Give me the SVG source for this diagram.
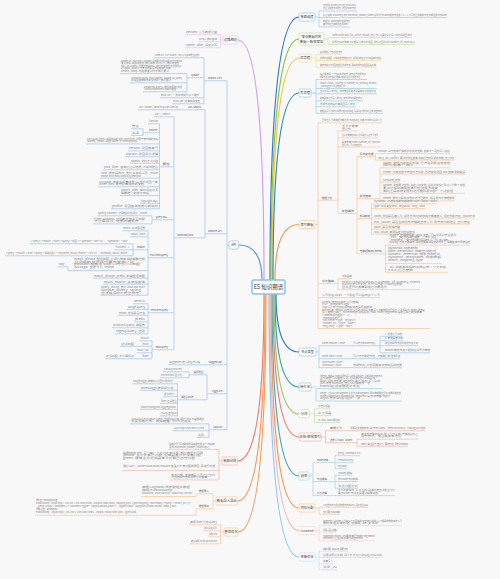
<svg xmlns="http://www.w3.org/2000/svg" width="500" height="579" viewBox="0 0 500 579">
<style>
text{font-family:"Noto Sans CJK SC","Noto Sans",sans-serif}
.n{font-size:3.3px;fill:#333;text-anchor:middle}
.t{font-size:2.3px;fill:#858585}
.s{font-size:2.6px;fill:#555}
.b{fill:#fff;stroke-width:0.8}
.u{fill:none;stroke-width:0.75}
.m{fill:none;stroke-width:1.2;stroke-linecap:round}
.e{fill:none;stroke-width:0.75}
.r{fill:#e0473c}
.c1{stroke:#2f78c4}.l1{stroke:#a6c9ec}
.c2{stroke:#8cc63f}.l2{stroke:#c6e2a6}
.c3{stroke:#f5c242}.l3{stroke:#f8dc94}
.c4{stroke:#2a8cb4}.l4{stroke:#9fd0e2}
.c5{stroke:#f59b55}.l5{stroke:#f8c8a0}
.c7{stroke:#3a9fba}.l7{stroke:#a2d3e0}
.c8{stroke:#93c95d}.l8{stroke:#c9e4ae}
.c9{stroke:#ef7f70}.l9{stroke:#f6b8ae}
.c10{stroke:#44a9bd}.l10{stroke:#a6d6e0}
.c12{stroke:#f4b3b3}.l12{stroke:#f9d4d4}
.c13{stroke:#8cc7f2}.l13{stroke:#c6e2f8}
.c14{stroke:#d39ef2}.l14{stroke:#e4c6f8}
.c15{stroke:#5b9bd5}.l15{stroke:#a2c6ea}
</style>
<rect width="500" height="579" fill="#f8f8f8"/>

<g id="connectors">
<path class="m c1" d="M270 280Q270 17 299 17"/>
<path class="m c2" d="M271 280Q271 39 299 39"/>
<path class="m c3" d="M272 280Q272 58 299 58"/>
<path class="m c4" d="M273 280Q273 93 299 93"/>
<path class="m c5" d="M275 280Q275 224.5 299 224.5"/>
<path class="m c1" d="M276 294Q276 352 299 352"/>
<path class="m c7" d="M275 294Q275 387 299 387"/>
<path class="m c8" d="M274 294Q274 414 299 414"/>
<path class="m c9" d="M273 294Q273 437 299 437"/>
<path class="m c10" d="M272 294Q272 476 299 476"/>
<path class="m c5" d="M271 294Q271 508 299 508"/>
<path class="m c12" d="M270 294Q270 530.5 299 530.5"/>
<path class="m c13" d="M269 294Q269 557 299 557"/>
<path class="m c14" d="M264 280Q264 40 238 40"/>
<path class="m c15" d="M262 280Q262 245 238.5 245"/>
<path class="m c9" d="M264 294Q264 461 237.5 461"/>
<path class="m c5" d="M265 294Q265 501 237.5 501"/>
<path class="m c5" d="M266 294Q266 532 238 532"/>
<path class="e l1" d="M315 17H319M319 11V27"/>
<path class="e l2" d="M324 39H328M328 37.6V44.6"/>
<path class="e l3" d="M311 58H316M316 54.2V67.2"/>
<path class="e l4" d="M311 93H316M316 79.5V113.3"/>
<path class="e l5" d="M315 224.5H318M318 122.9V328.5M338 131V213.6M357 156.6V253.9M375.5 153.6V160.1M380 167.8V200.9M371.5 203.9V234.1M385.5 245.2V272.3M338 278.6V289.6"/>
<path class="e l1" d="M316 352H319M319 345.7V367.7M380 336.3V352.8"/>
<path class="e l7" d="M311 387H316M316 388.6V401"/>
<path class="e l8" d="M309 413.8H314.5M314.5 408.8V422.6"/>
<path class="e l9" d="M321 437H325.5M325.5 430.7V442.7M357 439.2V446.3"/>
<path class="e l10" d="M309 476H313M313 462.6V495.6M335 455.7V468.7M335 475.2V488.2"/>
<path class="e l5" d="M315 508H319M319 507.2V514.2"/>
<path class="e l12" d="M315 530.5H319M319 525.6V540.7"/>
<path class="e l13" d="M315 557H319M319 551.2V569.8"/>
<path class="e l14" d="M223 40H220.5M220.5 34.7V47.7"/>
<path class="e l15" d="M229 245H227M227 80.8V429.8M204 57.8V103.8M187 73.6V91.8M205 109.8V237.8M174 116.8V349.8M159.5 123.8V208.8M143 128.8V135.3M152 215.8V223.9M148 230.8V295.2M133 243.8V255.8M72 270.6H68V266.8M148 303.8V333.8M152 340.8V358.8M189 371.8V377.8M177.5 383.8V415.8M207 374.8V399.8M209 423.9V437.3"/>
<path class="e l9" d="M222 461H219M219 449.4V479.9"/>
<path class="e l5" d="M216 501H213M213 493.8V508.8M196 493.8V496.5M196 508.8V515.3"/>
<path class="e l5" d="M224 532H220.5M220.5 524.8V543.8"/>
</g>

<g id="center">
<rect x="252" y="280" width="33" height="14" rx="2" fill="#fff" stroke="#8fc1ec" stroke-width="1.5"/>
<text x="268.5" y="289.2" font-size="5.5" fill="#333" text-anchor="middle">ES 知识图谱</text>
</g>

<g id="n-cluster">
<rect class="b l1" x="299" y="13" width="16" height="8" rx="1.2"/>
<text class="n" x="307" y="18.3">集群组建</text>
<path class="u l1" d="M319 11H357M319 17.6H447M319 27H350"/>
<text class="t" x="323" y="6.3" textLength="33" lengthAdjust="spacingAndGlyphs">节点发现: discovery.zen.ping.unicast.hosts</text>
<text class="t" x="323" y="9.3" textLength="33" lengthAdjust="spacingAndGlyphs">选主: 对候选节点排序, 选出master节点</text>
<text class="t" x="323" y="16" textLength="124" lengthAdjust="spacingAndGlyphs">防止脑裂: discovery.zen.minimum_master_nodes 设置为 (master候选节点数 / 2) + 1, 得票超过半数的节点才能当选为master</text>
<text class="t" x="323" y="22.3" textLength="27" lengthAdjust="spacingAndGlyphs">故障检测: master定期ping其他节点</text>
<text class="t" x="323" y="25.3" textLength="25" lengthAdjust="spacingAndGlyphs">其他节点也定期ping master</text>
</g>

<g id="n-consistency">
<rect class="b l2" x="299" y="33" width="25" height="12" rx="1.2"/>
<text class="n" x="311.5" y="38.3" font-size="3.1">保存数据时的</text>
<text class="n" x="311.5" y="42.5" font-size="3.1">数据一致性保证</text>
<path class="u l2" d="M328 37.6H412M328 44.6H415"/>
<text class="t" x="332" y="36" textLength="80" lengthAdjust="spacingAndGlyphs">index.write.wait_for_active_shards: 默认为1, 只需主分片写入成功即返回成功</text>
<text class="t" x="332" y="43" textLength="83" lengthAdjust="spacingAndGlyphs">设置为all时所有分片都写入成功才返回, 取值范围为1到 number_of_replicas+1</text>
</g>

<g id="n-read">
<rect class="b l3" x="299" y="54" width="12" height="8" rx="1.2"/>
<text class="n" x="305" y="59.3">读流程</text>
<path class="u l3" d="M316 54.2H342M316 60.5H381M316 67.2H376"/>
<text class="t" x="320" y="52.6" textLength="22" lengthAdjust="spacingAndGlyphs">客户端选择一个节点发送请求</text>
<text class="t" x="320" y="58.9" textLength="61" lengthAdjust="spacingAndGlyphs">协调节点根据 _id 确定文档所在分片, 采用轮询在主分片和副本中选择</text>
<text class="t" x="320" y="65.6" textLength="56" lengthAdjust="spacingAndGlyphs">被选中的分片返回文档给协调节点, 再由协调节点返回给客户端</text>
</g>

<g id="n-write">
<rect class="b l4" x="299" y="89" width="12" height="8" rx="1.2"/>
<text class="n" x="305" y="94.3">写流程</text>
<path class="u l4" d="M316 79.5H367M316 88.5H377M316 93.8H377M316 100.8H363M316 106.8H356M316 113.3H383"/>
<text class="t" x="320" y="74.8" textLength="46" lengthAdjust="spacingAndGlyphs">客户端选择一个节点发送请求, 该节点为协调节点</text>
<text class="t" x="320" y="77.6" textLength="40" lengthAdjust="spacingAndGlyphs">协调节点对文档进行路由, 转发到主分片所在节点</text>
<text class="t" x="320" y="83.8" textLength="56" lengthAdjust="spacingAndGlyphs">shard = hash(_routing) % number_of_primary_shards</text>
<text class="t" x="320" y="86.6" textLength="25" lengthAdjust="spacingAndGlyphs">_routing 默认为文档的 _id</text>
<text class="t" x="320" y="92.2" textLength="56" lengthAdjust="spacingAndGlyphs">主分片写入成功后, 将请求并行转发到副本分片所在节点</text>
<text class="t" x="320" y="99.2" textLength="42" lengthAdjust="spacingAndGlyphs">所有副本分片写入成功后, 向协调节点报告成功</text>
<text class="t" x="320" y="105.2" textLength="35" lengthAdjust="spacingAndGlyphs">协调节点向客户端返回写入成功</text>
<text class="t" x="320" y="111.7" textLength="62" lengthAdjust="spacingAndGlyphs">数据先写入 index buffer 和 translog, 每隔1秒 refresh 生成 segment</text>
</g>

<g id="n-index">
<rect class="b l5" x="299" y="220.5" width="16" height="8" rx="1.2"/>
<text class="n" x="307" y="225.8">索引数据</text>
<path class="u l5" d="M318 122.9H382M318 200.2H338M338 131H358M338 137.9H378M338 147H380M338 213.6H357M357 156.6H375.5M375.5 153.6H450M375.5 160.1H454M357 198.6H380M380 167.8H450M380 174.1H465M380 182.1H400M380 193.3H465M380 200.9H455M357 218.6H371.5M371.5 203.9H437M371.5 208.6H425M371.5 218.1H475M371.5 224.1H470M371.5 229.1H400M371.5 234.1H415M357 253.9H385.5M385.5 245.2H470M385.5 263.6H442M385.5 272.3H448M318 283.6H338M338 278.6H352M338 289.6H420M318 297.6H380M318 328.5H430"/>
<text class="t" x="322" y="121.3" textLength="60" lengthAdjust="spacingAndGlyphs">已建立索引的数据不能修改 mapping, 只能 reindex 到新索引</text>
<text class="s" x="322" y="198.6">数据分片</text>
<text class="t" x="342" y="126.8" textLength="16" lengthAdjust="spacingAndGlyphs">主分片数量</text>
<text class="t" x="342" y="129.5" textLength="9" lengthAdjust="spacingAndGlyphs">默认为5</text>
<text class="t" x="342" y="136.3" textLength="36" lengthAdjust="spacingAndGlyphs">主分片数量在创建索引时确定, 之后不可修改</text>
<text class="t" x="342" y="142.8" textLength="38" lengthAdjust="spacingAndGlyphs">副本数量 index.number_of_replicas</text>
<text class="t" x="342" y="145.5" textLength="20" lengthAdjust="spacingAndGlyphs">默认为1, 可以动态修改</text>
<text class="s" x="341.5" y="212" textLength="12.5" lengthAdjust="spacingAndGlyphs">文档操作</text>
<text class="s" x="359.5" y="155" textLength="14" lengthAdjust="spacingAndGlyphs">写冲突处理</text>
<text class="t" x="378" y="152" textLength="72" lengthAdjust="spacingAndGlyphs">version: 基于版本号实现乐观并发控制, 版本不一致则写入失败</text>
<text class="t" x="378" y="158.5" textLength="76" lengthAdjust="spacingAndGlyphs">retry_on_conflict: 更新时发生版本冲突后自动重试的次数, 默认为0</text>
<text class="s" x="359.5" y="197" textLength="11.5" lengthAdjust="spacingAndGlyphs">并发控制</text>
<text class="t" x="383" y="163.5" textLength="67" lengthAdjust="spacingAndGlyphs">index: 文档不存在则创建, 已存在则覆盖旧文档</text>
<text class="t" x="383" y="166.2" textLength="30" lengthAdjust="spacingAndGlyphs">同时版本号加1</text>
<text class="t" x="383" y="172.5" textLength="82" lengthAdjust="spacingAndGlyphs">create: 只有文档不存在时才创建, 已存在则返回 409 版本冲突错误</text>
<text class="t" x="383" y="180.5" textLength="17" lengthAdjust="spacingAndGlyphs">Sanitizing 清洗</text>
<text class="t" x="383" y="186.3" textLength="82" lengthAdjust="spacingAndGlyphs">update: 局部更新文档, 先检索旧文档, 合并新字段后重新索引整个文档</text>
<text class="t" x="383" y="189" textLength="55" lengthAdjust="spacingAndGlyphs">更新过程中使用版本号检测并发冲突</text>
<text class="t" x="383" y="191.7" textLength="70" lengthAdjust="spacingAndGlyphs">实际上是将旧文档标记为删除并创建一个新文档</text>
<text class="t" x="383" y="199.3" textLength="72" lengthAdjust="spacingAndGlyphs">delete: 删除只是将文档标记为已删除, 段合并时才物理删除</text>
<text class="s" x="359.5" y="217" textLength="10.5" lengthAdjust="spacingAndGlyphs">字段映射</text>
<text class="t" x="374" y="202.3" textLength="63" lengthAdjust="spacingAndGlyphs">dynamic: 新增字段的动态映射 true / false / strict</text>
<text class="t" x="374" y="207" textLength="51" lengthAdjust="spacingAndGlyphs">type: 字段类型 text / keyword / long / date</text>
<text class="t" x="374" y="216.5" textLength="101" lengthAdjust="spacingAndGlyphs">index: 字段是否被索引, 设置为 false 的字段不能被搜索, 但仍然保存在 _source 中</text>
<text class="t" x="374" y="222.5" textLength="96" lengthAdjust="spacingAndGlyphs">doc_values: 是否生成列式存储的正排索引, 用于排序和聚合, 默认开启</text>
<text class="t" x="374" y="227.5" textLength="26" lengthAdjust="spacingAndGlyphs">store: 是否单独存储</text>
<text class="t" x="374" y="232.5" textLength="41" lengthAdjust="spacingAndGlyphs">null_value: 使用指定值替换空值</text>
<text class="s" x="359.5" y="252.3" textLength="22.5" lengthAdjust="spacingAndGlyphs">元数据映射(meta)</text>
<text class="t" x="388" y="235.6" textLength="68" lengthAdjust="spacingAndGlyphs">_source: 存储原始的 JSON 文档, 可以关闭以节省空间</text>
<text class="t" x="388" y="238.2" textLength="48" lengthAdjust="spacingAndGlyphs">_id: 文档的唯一标识</text>
<text class="t" x="388" y="240.8" textLength="60" lengthAdjust="spacingAndGlyphs">_index: 文档所属的索引名称</text>
<text class="t" x="388" y="243.4" textLength="82" lengthAdjust="spacingAndGlyphs">_routing: 自定义路由值, 将文档路由到指定的分片上, 需要查询时同样指定</text>
<text class="t" x="388" y="249" textLength="30" lengthAdjust="spacingAndGlyphs">dynamic 动态映射</text>
<text class="t" x="388" y="252" textLength="48" lengthAdjust="spacingAndGlyphs">date_detection: 日期自动检测</text>
<text class="t" x="388" y="255" textLength="52" lengthAdjust="spacingAndGlyphs">numeric_detection: 数字自动检测</text>
<text class="t" x="388" y="258" textLength="53" lengthAdjust="spacingAndGlyphs">dynamic_templates: 动态模板</text>
<text class="t" x="388" y="261" textLength="35" lengthAdjust="spacingAndGlyphs">match_mapping_type</text>
<text class="t" x="388" y="267.5" textLength="58" lengthAdjust="spacingAndGlyphs">_all: 将所有字段的值拼接成一个大字段</text>
<text class="t" x="388" y="270.5" textLength="25" lengthAdjust="spacingAndGlyphs">6.0 之后已废弃</text>
<text class="s" x="322" y="282" textLength="12" lengthAdjust="spacingAndGlyphs">分片路由</text>
<text class="t" x="342" y="277" textLength="10" lengthAdjust="spacingAndGlyphs">创建副本</text>
<text class="t" x="342" y="282.5" textLength="78" lengthAdjust="spacingAndGlyphs">shard = hash(routing) % number_of_primary_shards</text>
<text class="t" x="342" y="285.2" textLength="60" lengthAdjust="spacingAndGlyphs">routing 默认为文档 _id, 可以自定义 routing 参数</text>
<text class="t" x="342" y="287.9" textLength="45" lengthAdjust="spacingAndGlyphs">因此主分片数量确定后不能修改</text>
<text class="t" x="322" y="296" textLength="58" lengthAdjust="spacingAndGlyphs">索引别名 alias: 一个别名可以指向多个索引</text>
<text class="t" x="322" y="302.5" textLength="37" lengthAdjust="spacingAndGlyphs">Index Template 索引模板</text>
<text class="t" x="322" y="305.2" textLength="27" lengthAdjust="spacingAndGlyphs">PUT _template/logs</text>
<text class="t" x="322" y="307.9" textLength="50" lengthAdjust="spacingAndGlyphs">创建索引时自动应用模板中的设置和映射</text>
<text class="t" x="322" y="310.6" textLength="103" lengthAdjust="spacingAndGlyphs"><tspan class="r">刷新与合并</tspan>: refresh_interval 设置刷新间隔, 批量写入大量数据时可设为 -1 关闭刷新, 完成后再恢复</text>
<text class="t" x="322" y="313.3" textLength="100" lengthAdjust="spacingAndGlyphs">写入完成后通过 _forcemerge 将段合并, max_num_segments 指定合并后的段数量</text>
<text class="t" x="322" y="316" textLength="27" lengthAdjust="spacingAndGlyphs">"settings": {</text>
<text class="t" x="322" y="318.7" textLength="20" lengthAdjust="spacingAndGlyphs">"mappings": {</text>
<text class="t" x="322" y="321.4" textLength="34" lengthAdjust="spacingAndGlyphs">"host_name": {"type": "keyword"},</text>
<text class="t" x="322" y="324.1" textLength="34" lengthAdjust="spacingAndGlyphs">"created_at": {"type": "date"},</text>
<text class="t" x="322" y="326.8" textLength="30" lengthAdjust="spacingAndGlyphs">"msg_body": {"type": "text"}</text>
</g>

<g id="n-node-type">
<rect class="b l1" x="299" y="348" width="17" height="8" rx="1.2"/>
<text class="n" x="307.5" y="353.2">节点类型</text>
<path class="u l1" d="M319 345.7H380M380 336.3H402M380 340.8H403M380 345.7H418M380 352.8H430M319 358.7H400M319 367.7H402"/>
<text class="t" x="322" y="344" textLength="23" lengthAdjust="spacingAndGlyphs">node.master = true</text>
<text class="t" x="353" y="344" textLength="22" lengthAdjust="spacingAndGlyphs">可以作为master节点</text>
<text class="t" x="385" y="334.7" textLength="17" lengthAdjust="spacingAndGlyphs">1. 处理索引请求</text>
<text class="t" x="385" y="339.2" textLength="18" lengthAdjust="spacingAndGlyphs">2. 管理集群状态</text>
<text class="t" x="385" y="344.1" textLength="33" lengthAdjust="spacingAndGlyphs">建议master节点与数据节点分离</text>
<text class="t" x="385" y="351.2" textLength="45" lengthAdjust="spacingAndGlyphs">master候选节点个数建议设置为奇数</text>
<text class="t" x="322" y="357" textLength="20" lengthAdjust="spacingAndGlyphs">node.data = true</text>
<text class="t" x="353" y="357" textLength="22" lengthAdjust="spacingAndGlyphs">可以作为数据节点</text>
<text class="t" x="378" y="357" textLength="22" lengthAdjust="spacingAndGlyphs">存储数据, 执行增删改查</text>
<text class="t" x="322" y="363.3" textLength="20" lengthAdjust="spacingAndGlyphs">node.master = false</text>
<text class="t" x="322" y="366" textLength="19" lengthAdjust="spacingAndGlyphs">node.data = false</text>
<text class="t" x="353" y="366" textLength="49" lengthAdjust="spacingAndGlyphs">协调节点: 只负责路由请求和合并结果</text>
</g>

<g id="n-persist">
<rect class="b l7" x="299" y="383" width="12" height="8" rx="1.2"/>
<text class="n" x="305" y="388.3">持久化</text>
<path class="u l7" d="M316 388.6H383M316 401H402"/>
<text class="t" x="320" y="376.6" textLength="62" lengthAdjust="spacingAndGlyphs">refresh: 数据从 index buffer 写入文件系统缓存, 生成新的 segment</text>
<text class="t" x="320" y="379.1" textLength="55" lengthAdjust="spacingAndGlyphs">此时数据可以被搜索到, 但尚未持久化到磁盘</text>
<text class="t" x="320" y="381.6" textLength="60" lengthAdjust="spacingAndGlyphs">flush: 将缓存中的 segment 通过 fsync 写入磁盘</text>
<text class="t" x="320" y="384.1" textLength="50" lengthAdjust="spacingAndGlyphs">同时清空 translog, 默认30分钟触发一次</text>
<text class="t" x="320" y="386.6" textLength="40" lengthAdjust="spacingAndGlyphs">translog 保证数据不丢失</text>
<text class="t" x="320" y="394.4" textLength="81" lengthAdjust="spacingAndGlyphs">merge: 后台将小的 segment 合并为大的 segment, 同时物理删除已标记删除的文档</text>
<text class="t" x="320" y="396.9" textLength="70" lengthAdjust="spacingAndGlyphs">index.translog.durability: request 每次请求都 fsync</text>
<text class="t" x="320" y="399.4" textLength="40" lengthAdjust="spacingAndGlyphs">async 异步每5秒 fsync 一次</text>
</g>

<g id="n-analyzer">
<rect class="b l8" x="299" y="409.8" width="10" height="8" rx="1.2"/>
<text class="n" x="304" y="415.1">分词</text>
<path class="u l8" d="M314.5 408.8H330M314.5 415.6H331M314.5 422.6H340"/>
<text class="t" x="318" y="407.2" textLength="12" lengthAdjust="spacingAndGlyphs">标准分析器</text>
<text class="t" x="318" y="414" textLength="13" lengthAdjust="spacingAndGlyphs">IK 分词器</text>
<text class="t" x="318" y="421" textLength="22" lengthAdjust="spacingAndGlyphs">ik_max_word 细粒度</text>
</g>

<g id="n-inverted">
<rect class="b l9" x="299" y="433" width="22" height="8" rx="1.2"/>
<text class="n" x="310" y="438.2">正排/倒排索引</text>
<path class="u l9" d="M325.5 430.7H425M325.5 442.7H357M357 439.2H418M357 446.3H408"/>
<text class="s" x="330" y="429" textLength="12" lengthAdjust="spacingAndGlyphs">倒排索引</text>
<text class="t" x="350" y="429" textLength="75" lengthAdjust="spacingAndGlyphs">词项到文档的映射, 由 Term Index、Term Dictionary、Posting List 组成</text>
<text class="s" x="330" y="441" textLength="22" lengthAdjust="spacingAndGlyphs">正排索引doc_values</text>
<text class="t" x="361" y="434.8" textLength="57" lengthAdjust="spacingAndGlyphs">按文档存储字段值, 在索引时生成, 存储在磁盘上</text>
<text class="t" x="361" y="437.4" textLength="40" lengthAdjust="spacingAndGlyphs">用于排序、聚合和脚本访问</text>
<text class="t" x="361" y="444.6" textLength="47" lengthAdjust="spacingAndGlyphs">text 类型不支持, 需开启 fielddata</text>
</g>

<g id="n-election">
<rect class="b l10" x="299" y="472" width="10" height="8" rx="1.2"/>
<text class="n" x="304" y="477.3">选举</text>
<path class="u l10" d="M313 462.6H335M335 455.7H360M335 462.6H353M335 468.7H347M313 481.6H335M335 475.2H352M335 481.6H358M335 488.2H358M313 495.6H395"/>
<text class="s" x="317" y="461" textLength="11" lengthAdjust="spacingAndGlyphs">master选举</text>
<text class="t" x="338" y="454.1" textLength="22" lengthAdjust="spacingAndGlyphs">ping_timeout 3s</text>
<text class="t" x="338" y="461" textLength="15" lengthAdjust="spacingAndGlyphs">ZenDiscovery</text>
<text class="t" x="338" y="467.1" textLength="9" lengthAdjust="spacingAndGlyphs">选出master</text>
<text class="s" x="317" y="480" textLength="10" lengthAdjust="spacingAndGlyphs">节点故障</text>
<text class="t" x="338" y="473.6" textLength="14" lengthAdjust="spacingAndGlyphs">Master 故障</text>
<text class="t" x="338" y="480" textLength="20" lengthAdjust="spacingAndGlyphs">非Master节点故障</text>
<text class="t" x="338" y="486.6" textLength="20" lengthAdjust="spacingAndGlyphs">重新分配分片</text>
<text class="s" x="317" y="494" textLength="10" lengthAdjust="spacingAndGlyphs">分片选举</text>
<text class="t" x="338" y="491.3" textLength="57" lengthAdjust="spacingAndGlyphs">主分片故障时, 从 in-sync 副本中选出新的主分片</text>
<text class="t" x="338" y="493.9" textLength="40" lengthAdjust="spacingAndGlyphs">由 master 节点负责更新集群状态</text>
</g>

<g id="n-memory">
<rect class="b l5" x="299" y="504" width="16" height="8" rx="1.2"/>
<text class="n" x="307" y="509.2">内存分配</text>
<path class="u l5" d="M319 507.2H368M319 514.2H340"/>
<text class="t" x="323" y="505.6" textLength="45" lengthAdjust="spacingAndGlyphs">JVM堆内存不超过物理内存的50%, 且不超过32G</text>
<text class="t" x="323" y="512.6" textLength="17" lengthAdjust="spacingAndGlyphs">禁用 swap</text>
</g>

<g id="n-lucene">
<rect class="b l12" x="299" y="526.5" width="16" height="8" rx="1.2"/>
<text class="n" x="307" y="531.7">Luncene</text>
<path class="u l12" d="M319 525.6H402M319 532.2H337M319 540.7H375"/>
<text class="t" x="323" y="521.5" textLength="79" lengthAdjust="spacingAndGlyphs">Segment: Lucene 索引由多个不可变的 segment 组成, 每个都是完整的倒排索引</text>
<text class="t" x="323" y="524" textLength="55" lengthAdjust="spacingAndGlyphs">删除文档只做标记, 记录在 .del 文件中</text>
<text class="t" x="323" y="530.6" textLength="14" lengthAdjust="spacingAndGlyphs">段合并</text>
<text class="t" x="323" y="536.6" textLength="52" lengthAdjust="spacingAndGlyphs">Commit Point: 记录所有已知的 segment</text>
<text class="t" x="323" y="539.1" textLength="40" lengthAdjust="spacingAndGlyphs">refresh 后生成新的 segment</text>
</g>

<g id="n-tuning">
<rect class="b l13" x="299" y="553" width="16" height="8" rx="1.2"/>
<text class="n" x="307" y="558.2">性能优化</text>
<path class="u l13" d="M319 551.2H348M319 557.5H382M319 563.8H333M319 569.8H337"/>
<text class="t" x="323" y="549.6" textLength="25" lengthAdjust="spacingAndGlyphs">使用 SSD 硬盘</text>
<text class="t" x="323" y="555.9" textLength="59" lengthAdjust="spacingAndGlyphs">合理设置分片数, 单个分片大小建议在 20G~50G</text>
<text class="t" x="323" y="562.2" textLength="10" lengthAdjust="spacingAndGlyphs">批量写入</text>
<text class="t" x="323" y="568.2" textLength="14" lengthAdjust="spacingAndGlyphs">关闭 _all</text>
</g>

<g id="n-ops">
<rect class="b l14" x="223" y="36" width="15" height="8" rx="1.2"/>
<text class="n" x="230.5" y="41.3">运维相关</text>
<path class="u l14" d="M185 34.7H220.5M198 41.7H220.5M185 47.7H220.5"/>
<text class="t" x="186" y="33.1" textLength="31" lengthAdjust="spacingAndGlyphs">Reindex: 索引数据迁移</text>
<text class="t" x="199" y="40.1" textLength="18" lengthAdjust="spacingAndGlyphs">scroll: 游标查询</text>
<text class="t" x="186" y="46.1" textLength="31" lengthAdjust="spacingAndGlyphs">search_after: 深度分页</text>
</g>

<g id="n-api">
<rect class="b l15" x="229" y="241" width="9.5" height="8" rx="1.2"/>
<text class="n" x="233.75" y="246.4">API</text>
<path class="u l15" d="M204 80.8H227M154 57.8H204M187 77.8H204M120 73.6H187M130 82.8H187M143 91.8H187M160 97.8H204M172 103.8H204M205 233.8H227M138 109.8H205M174 237.8H205M154 116.8H174M159.5 166.8H174M148 123.8H159.5M143 132.8H159.5M131 128.8H143M131 135.3H143M86 143.9H159.5M128 150.8H159.5M125 156.8H159.5M130 163.3H159.5M103 169.8H159.5M100 178.1H159.5M98 186.8H159.5M120 195.6H159.5M140 203.3H159.5M111 208.8H159.5M152 219.8H174M97 215.8H152M93 223.9H152M148 257.8H174M122 230.8H148M130 236.8H148M133 249.8H148M30 243.8H133M114 249.8H133M5 255.8H133M72 270.6H148M57.5 266.8H68M93 278.1H148M103 284.1H148M100 295.2H148M148 312.8H174M133 303.8H148M127 309.3H148M118 315.3H148M134 321.8H148M112 327.8H148M115 333.8H148M152 349.8H174M139.5 340.8H152M120 346.3H152M136.5 352.8H152M105 358.8H152M168 364.8H227M207 393.8H227M189 374.8H207M163 371.8H189M160 377.8H189M177.5 399.8H207M132 383.8H177.5M140 390.3H177.5M163 396.8H177.5M160 403.3H177.5M140 409.3H177.5M160 415.8H177.5M209 429.8H227M130 423.9H209M173 430.8H209M197 437.3H209"/>
<text class="s" x="208" y="79.2" textLength="14" lengthAdjust="spacingAndGlyphs">Docs API</text>
<text class="t" x="155" y="56.2" textLength="44" lengthAdjust="spacingAndGlyphs">Index API: PUT twitter/_doc/1 创建或覆盖文档</text>
<text class="s" x="191" y="76.2" textLength="8" lengthAdjust="spacingAndGlyphs">update</text>
<text class="t" x="121" y="61.6" textLength="61" lengthAdjust="spacingAndGlyphs">Update API: POST test/_update/1 局部更新文档, 使用 script 或 doc</text>
<text class="t" x="121" y="64.1" textLength="58" lengthAdjust="spacingAndGlyphs">更新流程: 获取旧文档, 执行脚本, 重新索引, 删除旧文档</text>
<text class="t" x="121" y="66.6" textLength="61" lengthAdjust="spacingAndGlyphs">doc_as_upsert: 文档不存在时以 doc 内容作为新文档插入</text>
<text class="t" x="121" y="69.1" textLength="50" lengthAdjust="spacingAndGlyphs">scripted_upsert: 不管文档是否存在都执行脚本</text>
<text class="t" x="121" y="71.6" textLength="48" lengthAdjust="spacingAndGlyphs">detect_noop: 内容未变化时不执行更新</text>
<text class="t" x="131" y="78.6" textLength="51" lengthAdjust="spacingAndGlyphs">Update By Query: POST twitter/_update_by_query</text>
<text class="t" x="131" y="81.2" textLength="40" lengthAdjust="spacingAndGlyphs">对满足查询条件的文档逐个执行更新</text>
<text class="t" x="144" y="87.6" textLength="38" lengthAdjust="spacingAndGlyphs">Delete By Query: 删除匹配的文档</text>
<text class="t" x="144" y="90.2" textLength="32" lengthAdjust="spacingAndGlyphs">conflicts=proceed 冲突时继续</text>
<text class="t" x="161" y="96.2" textLength="38" lengthAdjust="spacingAndGlyphs">Bulk API: 一次请求执行多个操作</text>
<text class="t" x="173" y="102.2" textLength="27" lengthAdjust="spacingAndGlyphs">Multi Get: 批量获取文档</text>
<text class="s" x="208" y="232.2" textLength="14" lengthAdjust="spacingAndGlyphs">Search API</text>
<text class="s" x="188" y="108.2" textLength="13" lengthAdjust="spacingAndGlyphs">URL Search</text>
<text class="t" x="139" y="108.2" textLength="39" lengthAdjust="spacingAndGlyphs">GET /twitter/_search?q=user:kimchy</text>
<text class="s" x="177.5" y="236.2" textLength="16" lengthAdjust="spacingAndGlyphs">Request Body Search</text>
<text class="t" x="155" y="115.2" textLength="15" lengthAdjust="spacingAndGlyphs">GET /_search</text>
<text class="s" x="162.5" y="165.2" textLength="7" lengthAdjust="spacingAndGlyphs">属性</text>
<text class="t" x="149" y="122.2" textLength="9" lengthAdjust="spacingAndGlyphs">from/size</text>
<text class="s" x="147.5" y="131.2" textLength="10" lengthAdjust="spacingAndGlyphs">_source</text>
<text class="t" x="132" y="127.2" textLength="7" lengthAdjust="spacingAndGlyphs">开启</text>
<text class="t" x="132" y="133.7" textLength="7" lengthAdjust="spacingAndGlyphs">关闭</text>
<text class="t" x="87" y="139.7" textLength="71" lengthAdjust="spacingAndGlyphs">docvalue_fields: 返回字段的 doc value 形式, 适用于未存储的字段</text>
<text class="t" x="87" y="142.3" textLength="50" lengthAdjust="spacingAndGlyphs">stored_fields: 返回 store 为 true 的字段</text>
<text class="t" x="129" y="149.2" textLength="29" lengthAdjust="spacingAndGlyphs">version: 返回版本号</text>
<text class="t" x="126" y="155.2" textLength="32" lengthAdjust="spacingAndGlyphs">explain: 返回评分详情</text>
<text class="t" x="131" y="161.7" textLength="27" lengthAdjust="spacingAndGlyphs">stats: 统计分组</text>
<text class="t" x="104" y="168.2" textLength="54" lengthAdjust="spacingAndGlyphs">post_filter: 查询后过滤结果, 不影响聚合</text>
<text class="t" x="101" y="173.9" textLength="57" lengthAdjust="spacingAndGlyphs">sort: 按字段排序, 支持多字段以及 _score</text>
<text class="t" x="101" y="176.5" textLength="40" lengthAdjust="spacingAndGlyphs">mode: min/max/sum/avg/median</text>
<text class="t" x="99" y="182.6" textLength="59" lengthAdjust="spacingAndGlyphs">collapse: 按字段折叠结果, 每组只返回一条</text>
<text class="t" x="99" y="185.2" textLength="45" lengthAdjust="spacingAndGlyphs">inner_hits: 展开折叠组内的文档</text>
<text class="t" x="121" y="191.4" textLength="37" lengthAdjust="spacingAndGlyphs">search_after: 实时深度分页</text>
<text class="t" x="121" y="194" textLength="28" lengthAdjust="spacingAndGlyphs">需要唯一的排序字段</text>
<text class="t" x="141" y="201.7" textLength="17" lengthAdjust="spacingAndGlyphs">highlight 高亮</text>
<text class="t" x="112" y="207.2" textLength="46" lengthAdjust="spacingAndGlyphs">profile: 返回查询各部分的耗时</text>
<text class="s" x="155.5" y="218.2" textLength="11.5" lengthAdjust="spacingAndGlyphs">Query DSL</text>
<text class="t" x="98" y="214.2" textLength="49" lengthAdjust="spacingAndGlyphs">Query Context: 计算相关性评分 _score</text>
<text class="t" x="94" y="219.7" textLength="51" lengthAdjust="spacingAndGlyphs">Filter Context: 只判断文档是否匹配</text>
<text class="t" x="94" y="222.3" textLength="45" lengthAdjust="spacingAndGlyphs">不计算评分, 结果会被缓存</text>
<text class="s" x="150" y="256.2" textLength="18" lengthAdjust="spacingAndGlyphs">Full text query</text>
<text class="t" x="123" y="229.2" textLength="22" lengthAdjust="spacingAndGlyphs">match_all 匹配全部</text>
<text class="t" x="131" y="235.2" textLength="14" lengthAdjust="spacingAndGlyphs">match_none</text>
<text class="s" x="137" y="248.2" textLength="8" lengthAdjust="spacingAndGlyphs">match</text>
<text class="t" x="107" y="242.2" textLength="21" lengthAdjust="spacingAndGlyphs">"operator": "and"</text>
<text class="t" x="31" y="242.2" textLength="72" lengthAdjust="spacingAndGlyphs">{"query":{"match":{"title":{"query":"中国人","operator":"and"}}}}</text>
<text class="t" x="115" y="248.2" textLength="14" lengthAdjust="spacingAndGlyphs">"fuzziness": 1</text>
<text class="t" x="100" y="254.2" textLength="28" lengthAdjust="spacingAndGlyphs">"minimum_should_match"</text>
<text class="t" x="6" y="254.2" textLength="91" lengthAdjust="spacingAndGlyphs">{"query":{"match":{"title":{"query":"我是中国人","minimum_should_match":"75%"}}}}</text>
<text class="t" x="74" y="260.2" textLength="71" lengthAdjust="spacingAndGlyphs">match_phrase: 短语匹配, 分词后所有词项都要出现</text>
<text class="t" x="74" y="262.8" textLength="60" lengthAdjust="spacingAndGlyphs">且词项的位置顺序要与查询一致</text>
<text class="t" x="74" y="265.4" textLength="66" lengthAdjust="spacingAndGlyphs">position 相差在 slop 以内也可以匹配</text>
<text class="t" x="74" y="268" textLength="40" lengthAdjust="spacingAndGlyphs">slop 默认为0</text>
<text class="t" x="58.5" y="265.2" textLength="6" lengthAdjust="spacingAndGlyphs">slop</text>
<text class="t" x="94" y="276.5" textLength="51" lengthAdjust="spacingAndGlyphs">match_phrase_prefix: 前缀短语匹配</text>
<text class="t" x="104" y="282.5" textLength="41" lengthAdjust="spacingAndGlyphs">multi_match: 多字段查询</text>
<text class="t" x="101" y="288.4" textLength="44" lengthAdjust="spacingAndGlyphs">query_string: 支持 AND OR NOT</text>
<text class="t" x="101" y="291" textLength="40" lengthAdjust="spacingAndGlyphs">simple_query_string</text>
<text class="t" x="101" y="293.6" textLength="38" lengthAdjust="spacingAndGlyphs">语法错误时不抛出异常</text>
<text class="s" x="150.5" y="311.2" textLength="17.5" lengthAdjust="spacingAndGlyphs">Term level query</text>
<text class="t" x="134" y="302.2" textLength="11" lengthAdjust="spacingAndGlyphs">term(s)</text>
<text class="t" x="128" y="307.7" textLength="17" lengthAdjust="spacingAndGlyphs">range query</text>
<text class="t" x="119" y="313.7" textLength="26" lengthAdjust="spacingAndGlyphs">exists: 字段是否存在</text>
<text class="t" x="135" y="320.2" textLength="10" lengthAdjust="spacingAndGlyphs">prefix</text>
<text class="t" x="113" y="326.2" textLength="32" lengthAdjust="spacingAndGlyphs">wildcard query: 通配符</text>
<text class="t" x="116" y="332.2" textLength="29" lengthAdjust="spacingAndGlyphs">regexp query: 正则</text>
<text class="s" x="156" y="348.2" textLength="12" lengthAdjust="spacingAndGlyphs">Bool query</text>
<text class="t" x="140.5" y="339.2" textLength="8" lengthAdjust="spacingAndGlyphs">should</text>
<text class="t" x="142.5" y="344.7" textLength="6" lengthAdjust="spacingAndGlyphs">must</text>
<text class="t" x="121" y="344.7" textLength="13" lengthAdjust="spacingAndGlyphs">必须匹配</text>
<text class="t" x="137.5" y="351.2" textLength="11" lengthAdjust="spacingAndGlyphs">must_not</text>
<text class="t" x="142.5" y="357.2" textLength="6" lengthAdjust="spacingAndGlyphs">filter</text>
<text class="t" x="106" y="357.2" textLength="28" lengthAdjust="spacingAndGlyphs">必须匹配, 不计算评分</text>
<text class="s" x="208.5" y="363.2" textLength="13.5" lengthAdjust="spacingAndGlyphs">suggest api</text>
<text class="t" x="169" y="363.2" textLength="31" lengthAdjust="spacingAndGlyphs">Suggesters 搜索建议与纠错</text>
<text class="s" x="212" y="392.2" textLength="11" lengthAdjust="spacingAndGlyphs">Aggs API</text>
<text class="s" x="193.5" y="373.2" textLength="10" lengthAdjust="spacingAndGlyphs">指标聚合</text>
<text class="t" x="164" y="370.2" textLength="18" lengthAdjust="spacingAndGlyphs">sum/avg/max/min</text>
<text class="t" x="161" y="376.2" textLength="21" lengthAdjust="spacingAndGlyphs">Percentiles 百分位</text>
<text class="s" x="181.5" y="398.2" textLength="12" lengthAdjust="spacingAndGlyphs">桶聚合 Bucket</text>
<text class="t" x="133" y="382.2" textLength="40" lengthAdjust="spacingAndGlyphs">range aggs 按数值范围分组统计</text>
<text class="t" x="141" y="388.7" textLength="32" lengthAdjust="spacingAndGlyphs">terms aggs 按词项分组</text>
<text class="t" x="164" y="395.2" textLength="10" lengthAdjust="spacingAndGlyphs">聚合排序</text>
<text class="t" x="161" y="401.7" textLength="16" lengthAdjust="spacingAndGlyphs">filter 过滤聚合</text>
<text class="t" x="141" y="407.7" textLength="35" lengthAdjust="spacingAndGlyphs">Date Histogram Aggregation</text>
<text class="t" x="161" y="414.2" textLength="16" lengthAdjust="spacingAndGlyphs">Missing Aggregation</text>
<text class="s" x="213" y="428.2" textLength="9.5" lengthAdjust="spacingAndGlyphs">Java API</text>
<text class="t" x="131" y="419.7" textLength="73" lengthAdjust="spacingAndGlyphs">Java Low Level REST Client: 低级别客户端, 通过 http 与集群通信</text>
<text class="t" x="131" y="422.3" textLength="60" lengthAdjust="spacingAndGlyphs">负责负载均衡、故障转移、持久化连接</text>
<text class="t" x="174" y="429.2" textLength="30" lengthAdjust="spacingAndGlyphs">Java High Level REST Client</text>
<text class="t" x="198" y="435.7" textLength="6" lengthAdjust="spacingAndGlyphs">注意</text>
</g>

<g id="n-cluster-issues">
<rect class="b l9" x="222" y="457" width="15.5" height="8" rx="1.2"/>
<text class="n" x="229.75" y="462.3">集群问题</text>
<path class="u l9" d="M168 449.4H219M122 470.4H219M170 479.9H219"/>
<text class="t" x="169" y="445.1" textLength="46" lengthAdjust="spacingAndGlyphs">脑裂问题: 网络故障导致集群出现多个 master</text>
<text class="t" x="169" y="447.7" textLength="40" lengthAdjust="spacingAndGlyphs">设置 minimum_master_nodes 避免</text>
<text class="t" x="123" y="453.6" textLength="80" lengthAdjust="spacingAndGlyphs">集群状态 red: 至少有一个主分片未分配, 部分数据不可用</text>
<text class="t" x="123" y="456.2" textLength="78" lengthAdjust="spacingAndGlyphs">yellow: 主分片都已分配, 但有副本分片没有分配</text>
<text class="t" x="123" y="458.8" textLength="72" lengthAdjust="spacingAndGlyphs">green: 所有主分片和副本分片都已正常分配</text>
<text class="t" x="123" y="466.6" textLength="92" lengthAdjust="spacingAndGlyphs">通过 GET _cluster/allocation/explain 查看分片未分配的原因, 再进行处理</text>
<text class="t" x="171" y="475.6" textLength="44" lengthAdjust="spacingAndGlyphs">节点过载: 查询或写入压力过大时</text>
<text class="t" x="171" y="478.2" textLength="36" lengthAdjust="spacingAndGlyphs">适当增加节点或调整分片数量</text>
</g>

<g id="n-data-io">
<rect class="b l5" x="216" y="497" width="21.5" height="8" rx="1.2"/>
<text class="n" x="226.75" y="502.2">数据导入导出</text>
<path class="u l5" d="M196 493.8H213M141 496.5H196M196 508.8H213M35 515.3H196"/>
<text class="s" x="199" y="492.2" textLength="10" lengthAdjust="spacingAndGlyphs">数据导入</text>
<text class="t" x="142" y="488.3" textLength="48" lengthAdjust="spacingAndGlyphs">使用 Logstash 同步数据库数据</text>
<text class="t" x="142" y="490.9" textLength="30" lengthAdjust="spacingAndGlyphs">使用 elasticdump</text>
<text class="t" x="142" y="493.5" textLength="50" lengthAdjust="spacingAndGlyphs">elasticdump --input=data.json --output=http://es:9200</text>
<text class="s" x="199" y="507.2" textLength="10" lengthAdjust="spacingAndGlyphs">数据导出</text>
<text class="t" x="36" y="501" textLength="22" lengthAdjust="spacingAndGlyphs">导出 mapping:</text>
<text class="t" x="36" y="504" textLength="155" lengthAdjust="spacingAndGlyphs">elasticdump --input=http://192.168.1.100:9200/index --output=/data/index_mapping.json --type=mapping --searchBody '{"query":{"match_all":{}}}'</text>
<text class="t" x="36" y="507" textLength="140" lengthAdjust="spacingAndGlyphs">--limit=1000 --headers='{"Content-Type":"application/json"}' --type=data --output=/data/index_data.json</text>
<text class="t" x="36" y="510" textLength="22" lengthAdjust="spacingAndGlyphs">导出 data:</text>
<text class="t" x="36" y="513" textLength="100" lengthAdjust="spacingAndGlyphs">elasticdump --input=http://192.168.1.100:9200/index --output=/data/index.json --type=data</text>
</g>

<g id="n-query-tuning">
<rect class="b l5" x="224" y="528" width="14" height="8" rx="1.2"/>
<text class="n" x="231" y="533.3">查询优化</text>
<path class="u l5" d="M189 524.8H220.5M203 530.8H220.5M208 536.8H220.5M190 543.8H220.5"/>
<text class="t" x="190" y="523.2" textLength="27" lengthAdjust="spacingAndGlyphs">使用 filter 代替 query</text>
<text class="t" x="204" y="529.2" textLength="13" lengthAdjust="spacingAndGlyphs">避免深度分页</text>
<text class="t" x="209" y="535.2" textLength="8" lengthAdjust="spacingAndGlyphs">冷热分离</text>
<text class="t" x="191" y="542.2" textLength="26" lengthAdjust="spacingAndGlyphs">避免使用 script 和 wildcard</text>
</g>
</svg>
